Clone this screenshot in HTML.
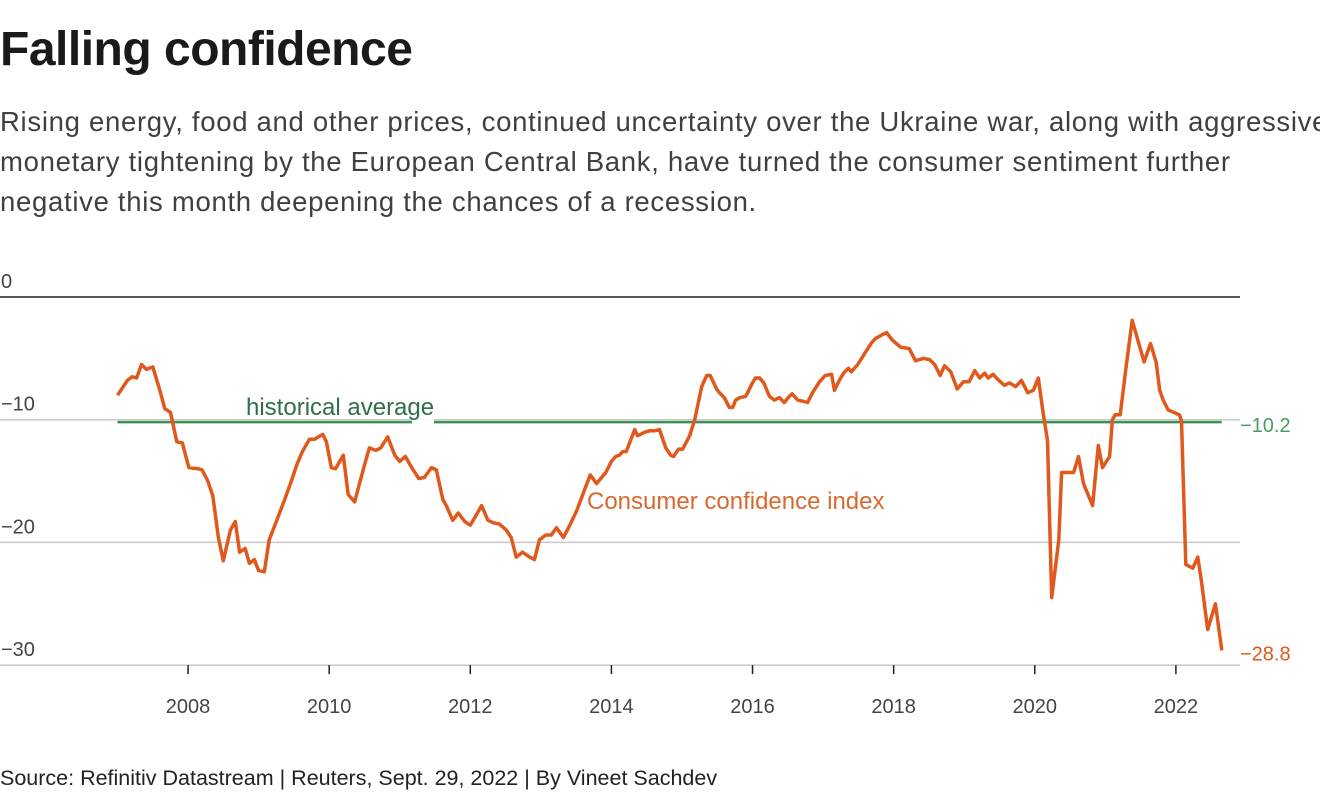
<!DOCTYPE html>
<html><head><meta charset="utf-8"><style>
body{margin:0;background:#fff;font-family:"Liberation Sans",sans-serif;}
#wrap{position:relative;width:1320px;height:800px;overflow:hidden;}
h1{position:absolute;left:0;top:22px;margin:0;font-size:48px;font-weight:bold;color:#1a1a1a;letter-spacing:-0.5px;}
#sub{position:absolute;left:0;top:102px;width:1330px;font-size:27.5px;line-height:40px;color:#404040;letter-spacing:0.7px;white-space:nowrap;}
#src{position:absolute;left:0;top:766px;font-size:21.5px;color:#222;}
svg{position:absolute;left:0;top:0;}
</style></head><body>
<div id="wrap">
<h1>Falling confidence</h1>
<div id="sub">Rising energy, food and other prices, continued uncertainty over the Ukraine war, along with aggressive<br>monetary tightening by the European Central Bank, have turned the consumer sentiment further<br>negative this month deepening the chances of a recession.</div>
<svg id="chart" width="1320" height="800"></svg>
<div id="src">Source: Refinitiv Datastream | Reuters, Sept. 29, 2022 | By Vineet Sachdev</div>
</div>
<script>
const yTicks=[0,-10,-20,-30];
const yTickLabels=["0","\u221210","\u221220","\u221230"];
const xTicks=[2008,2010,2012,2014,2016,2018,2020,2022];
const avgValue=-10.2;
const dates=[2007.00,2007.14,2007.21,2007.27,2007.34,2007.41,2007.50,2007.60,2007.67,2007.75,2007.84,2007.92,2008.01,2008.15,2008.20,2008.28,2008.35,2008.43,2008.50,2008.60,2008.67,2008.73,2008.81,2008.87,2008.94,2009.00,2009.08,2009.15,2009.27,2009.37,2009.47,2009.54,2009.62,2009.72,2009.79,2009.91,2009.96,2010.03,2010.09,2010.20,2010.27,2010.36,2010.49,2010.57,2010.66,2010.73,2010.83,2010.93,2011.00,2011.08,2011.17,2011.27,2011.35,2011.45,2011.52,2011.61,2011.66,2011.75,2011.83,2011.92,2012.00,2012.09,2012.16,2012.25,2012.33,2012.41,2012.51,2012.58,2012.65,2012.74,2012.84,2012.91,2012.98,2013.07,2013.15,2013.22,2013.32,2013.41,2013.51,2013.62,2013.70,2013.79,2013.92,2014.00,2014.06,2014.11,2014.16,2014.21,2014.33,2014.37,2014.41,2014.48,2014.55,2014.62,2014.68,2014.77,2014.84,2014.88,2014.95,2015.01,2015.11,2015.18,2015.28,2015.35,2015.40,2015.49,2015.53,2015.60,2015.67,2015.72,2015.76,2015.82,2015.90,2015.93,2015.99,2016.04,2016.10,2016.16,2016.24,2016.31,2016.38,2016.45,2016.52,2016.56,2016.64,2016.72,2016.78,2016.85,2016.95,2017.03,2017.12,2017.16,2017.23,2017.29,2017.36,2017.40,2017.49,2017.59,2017.69,2017.74,2017.83,2017.90,2017.98,2018.10,2018.22,2018.31,2018.42,2018.51,2018.58,2018.66,2018.72,2018.81,2018.90,2018.99,2019.07,2019.15,2019.22,2019.29,2019.34,2019.41,2019.49,2019.57,2019.64,2019.73,2019.81,2019.90,2019.98,2020.05,2020.12,2020.18,2020.24,2020.34,2020.38,2020.46,2020.55,2020.62,2020.69,2020.82,2020.90,2020.96,2021.06,2021.10,2021.14,2021.21,2021.29,2021.38,2021.55,2021.64,2021.72,2021.77,2021.82,2021.89,2022.01,2022.05,2022.08,2022.14,2022.24,2022.31,2022.36,2022.45,2022.56,2022.65];
const values=[-8.0,-6.8,-6.5,-6.6,-5.5,-5.9,-5.7,-7.6,-9.1,-9.4,-11.8,-11.9,-13.9,-14.0,-14.1,-15.0,-16.2,-19.6,-21.5,-19.0,-18.3,-20.8,-20.5,-21.7,-21.4,-22.3,-22.4,-19.8,-18.0,-16.5,-14.9,-13.7,-12.6,-11.6,-11.6,-11.2,-11.8,-13.9,-14.0,-12.9,-16.1,-16.7,-13.9,-12.3,-12.5,-12.3,-11.4,-12.9,-13.4,-13.0,-13.9,-14.8,-14.7,-13.9,-14.1,-16.5,-17.0,-18.2,-17.6,-18.3,-18.6,-17.7,-17.0,-18.2,-18.4,-18.5,-19.0,-19.6,-21.2,-20.8,-21.2,-21.4,-19.8,-19.4,-19.4,-18.8,-19.6,-18.6,-17.4,-15.7,-14.5,-15.2,-14.3,-13.4,-13.0,-12.9,-12.6,-12.6,-10.8,-11.3,-11.2,-11.0,-10.9,-10.9,-10.8,-12.3,-12.9,-13.0,-12.4,-12.4,-11.3,-10.0,-7.3,-6.4,-6.4,-7.5,-7.8,-8.2,-9.0,-9.0,-8.4,-8.2,-8.1,-7.8,-7.1,-6.6,-6.6,-7.0,-8.1,-8.4,-8.2,-8.6,-8.1,-7.9,-8.4,-8.5,-8.6,-7.8,-6.9,-6.4,-6.3,-7.6,-6.8,-6.2,-5.8,-6.1,-5.5,-4.6,-3.7,-3.4,-3.1,-2.9,-3.5,-4.1,-4.2,-5.2,-5.0,-5.1,-5.5,-6.4,-5.6,-6.1,-7.5,-6.9,-6.9,-6.0,-6.6,-6.2,-6.6,-6.3,-6.8,-7.2,-7.0,-7.3,-6.8,-7.8,-7.6,-6.6,-9.5,-11.7,-24.5,-19.8,-14.3,-14.3,-14.3,-13.0,-15.2,-17.0,-12.1,-13.9,-13.0,-10.0,-9.6,-9.6,-5.9,-1.9,-5.3,-3.8,-5.3,-7.6,-8.4,-9.2,-9.5,-9.6,-10.1,-21.8,-22.1,-21.2,-23.1,-27.1,-25.0,-28.8];

const NS="http://www.w3.org/2000/svg";
const svg=document.getElementById('chart');
const X=t=>117.5+(t-2007)*70.56;
const Y=v=>297-v*12.27;
function mk(tag,attrs,parent){const e=document.createElementNS(NS,tag);for(const k in attrs)e.setAttribute(k,attrs[k]);(parent||svg).appendChild(e);return e;}
const F='"Liberation Sans",sans-serif';
yTicks.forEach((v,i)=>{
  const l=mk('line',{x1:0,x2:1240,y1:Y(v),y2:Y(v),stroke:v===0?'#222':'#c8c8c8','stroke-width':1.5});
  
  
  const t=mk('text',{x:1,y:Y(v)-9,'font-family':F,'font-size':20,fill:'#444'});
  t.textContent=yTickLabels[i];
  
  
});
xTicks.forEach(yr=>{
  const l=mk('line',{x1:X(yr),x2:X(yr),y1:Y(-30),y2:Y(-30)+9,stroke:'#222','stroke-width':1.5});
  
  
  const t=mk('text',{x:X(yr),y:713,'font-family':F,'font-size':20,fill:'#444','text-anchor':'middle'});
  t.textContent=yr;
  
  
});
const avg=mk('line',{x1:X(dates[0]),x2:X(dates[dates.length-1]),y1:Y(avgValue),y2:Y(avgValue),stroke:'#3d8f5a','stroke-width':2.5});


const bg=mk('rect',{x:412,y:Y(avgValue)-3,width:22,height:6,fill:'#fff'});


const ha=mk('text',{x:246,y:415,'font-family':F,'font-size':24,fill:'#2f6e48'});
ha.textContent='historical average';


const av=mk('text',{x:1240,y:Y(avgValue)+10,'font-family':F,'font-size':20,fill:'#4a9a66'});
av.textContent='\u221210.2';


const d=dates.map((t,i)=>(i?'L':'M')+X(t).toFixed(1)+','+Y(values[i]).toFixed(1)).join('');
const p=mk('path',{d:d,fill:'none',stroke:'#e0581b','stroke-width':3.5,'stroke-linejoin':'round'});


const cl=mk('text',{x:587,y:509,'font-family':F,'font-size':24,fill:'#d9682f'});
cl.textContent='Consumer confidence index';


const last=values[values.length-1];
const lv=mk('text',{x:1240,y:Y(last)+10,'font-family':F,'font-size':20,fill:'#e0581b'});
lv.textContent='\u2212'+Math.abs(last).toFixed(1);


</script>
</body></html>
